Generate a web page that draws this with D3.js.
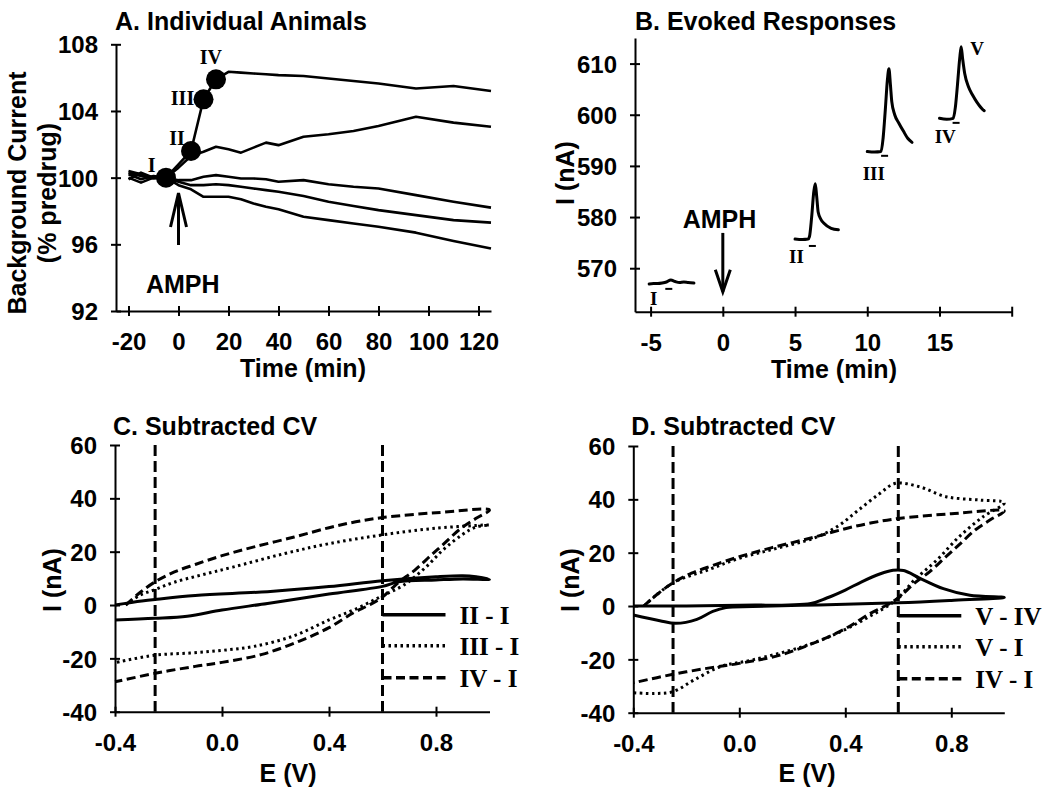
<!DOCTYPE html>
<html><head><meta charset="utf-8">
<script src="https://cdn.jsdelivr.net/npm/d3@7"></script>
<style>
body{margin:0;background:#fff}
svg{display:block;background:#fff}
text{font-family:"Liberation Sans",Arial,sans-serif;font-weight:bold;fill:#000}
.serif{font-family:"Liberation Serif","Times New Roman",serif}
</style>
</head><body>
<svg id="chart" width="1048" height="789"></svg>
<script>
// ---------------- Panel A data ----------------
const timeA   = [-20,-15,-10,-5,0,5,10,15,20,25,30,35,40,50,60,70,80,95,110,125];
const animal1 = [100.3,100.1,99.95,100,100.8,101.6,104.7,105.9,106.35,106.3,106.25,106.2,106.15,106.1,105.95,105.8,105.65,105.35,105.5,105.2];
const animal2 = [100.4,100.2,100.0,100,100.6,101.3,101.55,101.85,101.7,101.5,101.8,102.1,101.95,102.45,102.6,102.8,103.1,103.65,103.3,103.05];
const animal3 = [100.0,99.7,100.0,100,99.85,99.85,100.05,100.15,100.05,99.95,99.95,99.9,99.75,99.85,99.6,99.45,99.35,98.95,98.55,98.2];
const animal4 = [100.2,99.9,100.1,100,99.75,99.55,99.55,99.6,99.55,99.45,99.35,99.25,99.15,98.9,98.55,98.3,98.05,97.75,97.45,97.3];
const animal5 = [99.9,100.3,100.0,100,99.55,99.3,98.85,98.85,98.85,98.7,98.45,98.25,98.1,97.65,97.45,97.25,97.05,96.7,96.2,95.75];
const markerTimes  = [-5,5,10,15];
const markerValues = [100,101.6,104.7,105.9];
const markerLabels = ["I","II","III","IV"];
const markerLabelX = [-10.7,-0.6,1.6,12.9];
const markerLabelY = [100.36,101.96,104.36,106.82];
const xTicksA = [-20,0,20,40,60,80,100,120];
const xLabelsA = ["-20","0","20","40","60","80","100","120"];
const yTicksA = [92,96,100,104,108];
const yLabelsA = ["92","96","100","104","108"];

// ---------------- Panel B data ----------------
const traceI   = [[-5.1,566.9],[-4.8,567.0],[-4.5,567.0],[-4.2,567.1],[-3.9,567.3],[-3.6,567.7],[-3.3,567.4],[-3.0,567.2],[-2.7,567.3],[-2.4,567.2],[-2.0,567.1]];
const traceII  = [[5.0,575.7],[5.5,575.6],[5.9,575.7],[6.0,576.2],[6.15,580],[6.3,585],[6.4,586.5],[6.5,584],[6.6,581],[6.8,579.5],[7.0,578.8],[7.5,577.8],[8.0,577.5]];
const traceIII = [[10.0,592.8],[10.5,592.7],[10.95,592.8],[11.1,595.5],[11.25,601],[11.4,607],[11.5,609],[11.6,606],[11.7,602.5],[11.9,600],[12.2,598.3],[12.5,596.8],[12.8,595.4],[13.1,594.6]];
const traceIV  = [[15.0,599.3],[15.5,599.1],[15.95,599.3],[16.1,601.5],[16.25,606],[16.4,611],[16.5,613.3],[16.6,611],[16.75,608],[17.0,605.5],[17.3,603.8],[17.6,602.4],[18.0,601.0],[18.1,600.8]];
const labelsB  = ["I","II","III","IV","V"];
const labelBX  = [-4.79,5.1,10.45,15.4,17.6];
const labelBY  = [562.84,570.98,587.2,594.4,611.6];
const dashBX   = [-3.74,6.2,11.2,16.15];
const dashBY   = [565.96,574.35,591.97,598.41];
const xTicksB = [-5,0,5,10,15,20];
const xLabelsB = ["-5","0","5","10","15",""];
const yTicksB = [570,580,590,600,610];
const yLabelsB = ["570","580","590","600","610"];

// ---------------- Panels C / D data (E in V, I in nA) ----------------
const cvII_I = [[-0.4,0],[-0.3,1.5],[-0.25,2.1],[-0.1,3.6],[0.17,5],[0.4,6.9],[0.6,9.1],[0.8,10.6],[0.9,11],[0.95,10.6],[1.0,9.6],
                [0.9,9.8],[0.8,9.4],[0.66,8.7],[0.6,7],[0.4,4.1],[0.17,0.6],[0,-1.9],[-0.13,-4.2],[-0.25,-5],[-0.4,-5.6]];
const cvIII_I = [[-0.36,0],[-0.31,3.5],[-0.25,5.8],[-0.18,8.5],[-0.08,11.2],[0.04,14.2],[0.23,19.2],[0.4,23],[0.6,26.3],[0.8,28.8],[1.0,30],
                 [0.95,29.3],[0.9,26.5],[0.83,21],[0.76,14],[0.68,7.5],[0.6,3.5],[0.5,-1.5],[0.4,-5.6],[0.27,-11.5],[0.12,-15.5],[0,-17],[-0.12,-18],[-0.25,-18.8],[-0.4,-21.6]];
const cvIV_I = [[-0.36,0],[-0.31,4.4],[-0.25,8.7],[-0.18,12.3],[-0.1,15.2],[0,18.5],[0.12,21.8],[0.27,25.5],[0.4,29],[0.5,31.2],[0.6,32.8],[0.8,34.6],[1.0,35.6],
                [0.95,32.5],[0.89,28.5],[0.83,23],[0.78,18.5],[0.72,13],[0.66,8.5],[0.6,3],[0.55,0],[0.49,-3],[0.4,-8.5],[0.29,-13.5],[0.15,-18.5],[0,-21.5],[-0.1,-23],[-0.25,-25.6],[-0.4,-28.8]];
const cvV_IV = [[-0.4,0],[-0.2,0],[0,0.3],[0.27,1.0],[0.33,3],[0.4,6],[0.46,9],[0.53,12],[0.58,13.4],[0.62,13.3],[0.68,10.5],[0.77,6.5],[0.87,4],[1.0,3.2],
                [0.8,2.1],[0.6,1.2],[0.3,0.4],[0.05,-0.2],[-0.05,-0.6],[-0.1,-2],[-0.16,-5],[-0.24,-6.5],[-0.3,-5.5],[-0.4,-3.4]];
const cvV_I = [[-0.36,0],[-0.25,8.7],[-0.12,13.5],[0,17.9],[0.14,21.6],[0.28,25.4],[0.37,29.8],[0.45,36],[0.53,42.2],[0.59,46],[0.68,44.7],[0.78,41],[0.91,39.7],[1.0,38.7],
               [0.92,33.5],[0.83,26],[0.745,17.2],[0.66,9.7],[0.59,2.2],[0.49,-4],[0.37,-10.2],[0.24,-15.2],[0.05,-20.2],[-0.07,-22.7],[-0.17,-27.7],[-0.25,-32.1],[-0.32,-32.8],[-0.4,-32.5]];
const vLinesE = [-0.25,0.6];
const xTicksCV = [-0.4,0,0.4,0.8];
const xLabelsCV = ["-0.4","0.0","0.4","0.8"];
const yTicksCV = [-40,-20,0,20,40,60];
const yLabelsCV = ["-40","-20","0","20","40","60"];
const legendC = ["II - I","III - I","IV - I"];
const legendD = ["V - IV","V - I","IV - I"];

// ---------------- drawing ----------------
const svg = d3.select("#chart");
const SOLID = null, DOT = "2.5,3.5", DASH = "9,4.5";

function axes(g, x, y, xt, xl, yt, yl) {
  const y0 = y.range()[0], x0 = x.range()[0];
  const ax = d3.axisBottom(x).tickValues(xt).tickFormat((d,i)=>xl[i]).tickSizeOuter(0).tickSizeInner(5);
  g.append("g").attr("transform",`translate(0,${y0})`).call(ax).call(s=>{
    s.attr("font-family",null).attr("font-size",24);
    s.select(".domain").attr("stroke-width",2);
    s.selectAll(".tick line").attr("y1",-5).attr("y2",5).attr("stroke-width",2);
    s.selectAll(".tick text").attr("y",39).attr("dy",null);
  });
  const ay = d3.axisLeft(y).tickValues(yt).tickFormat((d,i)=>yl[i]).tickSizeOuter(0).tickSizeInner(5);
  g.append("g").attr("transform",`translate(${x0},0)`).call(ay).call(s=>{
    s.attr("font-family",null).attr("font-size",24);
    s.select(".domain").attr("stroke-width",2);
    s.selectAll(".tick line").attr("x1",-5).attr("x2",5).attr("stroke-width",2);
    s.selectAll(".tick text").attr("x",-18).attr("dy","0.36em");
  });
}
function title(txt, x, y) {
  svg.append("text").attr("x",x).attr("y",y).attr("font-size",25).text(txt);
}
function ylabel(lines, cx, cy) {
  lines.forEach((t,i)=>svg.append("text").attr("transform",`translate(${cx+i*30},${cy}) rotate(-90)`)
    .attr("text-anchor","middle").attr("dy","0.36em").attr("font-size",25).text(t));
}
function arrow(x1,y1,x2,y2,len,half){ // tip at (x2,y2)
  const g = svg.append("g").attr("stroke","#000").attr("stroke-width",3).attr("fill","none");
  g.append("line").attr("x1",x1).attr("y1",y1).attr("x2",x2).attr("y2",y2);
  const dir = Math.sign(y1-y2);
  g.append("path").attr("d",`M${x2-half},${y2+dir*len} L${x2},${y2} L${x2+half},${y2+dir*len}`).attr("stroke-linejoin","miter");
}

// ===== Panel A =====
{
  const x = d3.scaleLinear().domain([-25,125]).range([116,491]);
  const y = d3.scaleLinear().domain([92,108]).range([311,44.3]);
  const g = svg.append("g");
  axes(g,x,y,xTicksA,xLabelsA,yTicksA,yLabelsA);
  const line = d3.line().x((d,i)=>x(timeA[i])).y(d=>y(d));
  [animal5,animal4,animal3,animal2,animal1].forEach(a=>{
    g.append("path").attr("d",line(a)).attr("fill","none").attr("stroke","#000").attr("stroke-width",2.6).attr("stroke-linejoin","round");
  });
  g.selectAll("circle.m").data(markerTimes).enter().append("circle")
    .attr("cx",d=>x(d)).attr("cy",(d,i)=>y(markerValues[i])).attr("r",10).attr("fill","#000");
  markerLabels.forEach((t,i)=>g.append("text").attr("class","serif").attr("x",x(markerLabelX[i])).attr("y",y(markerLabelY[i]))
    .attr("text-anchor","middle").attr("font-size",20).text(t));
  arrow(x(0),y(95.96),x(0),y(99.08),34,8);
  g.append("text").attr("x",x(1.7)).attr("y",y(93.06)).attr("text-anchor","middle").attr("font-size",25).text("AMPH");
  title("A. Individual Animals",115,30);
  ylabel(["Background Current","(% predrug)"],17,193);
  svg.append("text").attr("x",303).attr("y",377).attr("text-anchor","middle").attr("font-size",25).text("Time (min)");
}

// ===== Panel B =====
{
  const x = d3.scaleLinear().domain([-6.08,20]).range([635,1011.7]);
  const y = d3.scaleLinear().domain([561.5,615]).range([311.7,38]);
  const g = svg.append("g");
  axes(g,x,y,xTicksB,xLabelsB,yTicksB,yLabelsB);
  const line = d3.line().x(d=>x(d[0])).y(d=>y(d[1])).curve(d3.curveMonotoneX);
  [traceI,traceII,traceIII,traceIV].forEach(t=>{
    g.append("path").attr("d",line(t)).attr("fill","none").attr("stroke","#000").attr("stroke-width",3).attr("stroke-linejoin","round").attr("stroke-linecap","round");
  });
  dashBX.forEach((d,i)=>g.append("line").attr("x1",x(d)-3.5).attr("x2",x(d)+3.5).attr("y1",y(dashBY[i])).attr("y2",y(dashBY[i])).attr("stroke","#000").attr("stroke-width",2));
  labelsB.forEach((t,i)=>g.append("text").attr("class","serif").attr("x",x(labelBX[i])).attr("y",y(labelBY[i]))
    .attr("text-anchor","middle").attr("font-size",19).text(t));
  arrow(x(0),y(576.9),x(0),y(565.4),22,7.5);
  g.append("text").attr("x",x(-0.23)).attr("y",y(577.8)).attr("text-anchor","middle").attr("font-size",25).text("AMPH");
  title("B.  Evoked Responses",635,30);
  ylabel(["I (nA)"],565,173);
  svg.append("text").attr("x",834).attr("y",378).attr("text-anchor","middle").attr("font-size",25).text("Time (min)");
}

// ===== Panels C & D =====
function cvPanel(x0,x1,yb,yt,curves,styles,legend,titleTxt,ylx,exx) {
  const x = d3.scaleLinear().domain([-0.4,1.0]).range([x0,x1]);
  const y = d3.scaleLinear().domain([-40,60]).range([yb,yt]);
  const g = svg.append("g");
  axes(g,x,y,xTicksCV,xLabelsCV,yTicksCV,yLabelsCV);
  vLinesE.forEach(e=>g.append("line").attr("x1",x(e)).attr("x2",x(e)).attr("y1",y(60)).attr("y2",y(-40))
    .attr("stroke","#000").attr("stroke-width",3).attr("stroke-dasharray","11,5"));
  const line = d3.line().x(d=>x(d[0])).y(d=>y(d[1])).curve(d3.curveCatmullRom.alpha(0.5));
  curves.forEach((c,i)=>g.append("path").attr("d",line(c)).attr("fill","none").attr("stroke","#000")
    .attr("stroke-width",3).attr("stroke-dasharray",styles[i]).attr("stroke-linejoin","round"));
  const lx = x(0.6);
  const ly = [yb-97, yb-66, yb-34];
  legend.forEach((t,i)=>{
    g.append("line").attr("x1",lx).attr("x2",lx+63).attr("y1",ly[i]).attr("y2",ly[i]).attr("stroke","#000")
      .attr("stroke-width",3.5).attr("stroke-dasharray",styles[i]);
    g.append("text").attr("class","serif").attr("x",lx+77).attr("y",ly[i]).attr("dy","0.36em").attr("font-size",25).text(t);
  });
  title(titleTxt,x0-2,435);
  ylabel(["I (nA)"],ylx,580);
  svg.append("text").attr("x",exx).attr("y",782).attr("text-anchor","middle").attr("font-size",25).text("E (V)");
}
cvPanel(115,489.5,711.7,445,[cvII_I,cvIII_I,cvIV_I],[SOLID,DOT,DASH],legendC,"C. Subtracted CV",52,288);
cvPanel(633.3,1004.3,712.7,446,[cvV_IV,cvV_I,cvIV_I],[SOLID,DOT,DASH],legendD,"D. Subtracted CV",570,807);
</script>
</body></html>
